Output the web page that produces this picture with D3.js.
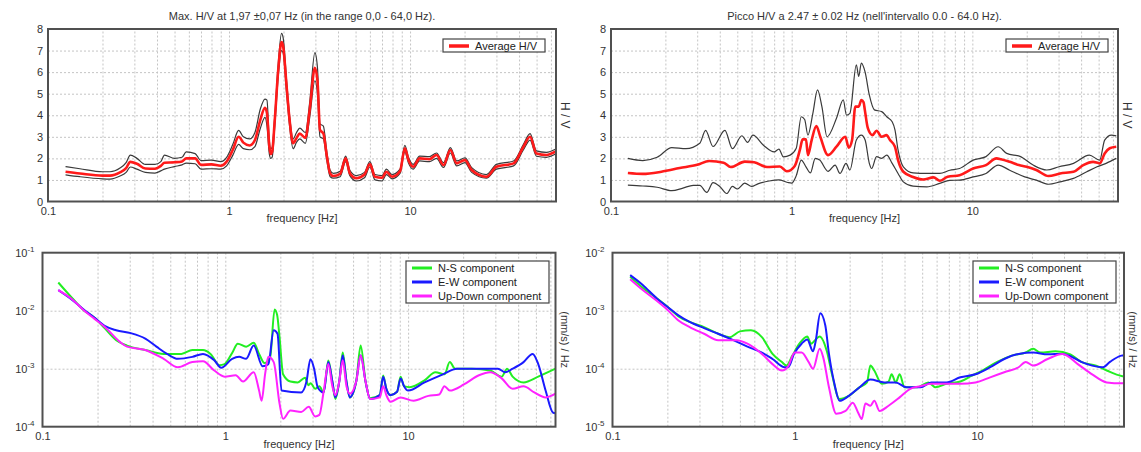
<!DOCTYPE html>
<html>
<head>
<meta charset="utf-8">
<script src="https://cdn.jsdelivr.net/npm/d3@7"></script>
<style>
body { margin: 0; background: #fff; }
svg { display: block; font-family: "Liberation Sans", Arial, sans-serif; }
.grid line { stroke: #c4c4c4; stroke-dasharray: 2,2; }
.grid .domain { display: none; }
.lbl text { fill: #333; font-size: 11px; }
.lbl .domain { display: none; }
</style>
</head>
<body>
<svg id="chart" width="1141" height="452"></svg>
<script>
// ---- top left: H/V (Max. H/V at 1,97 Hz)
const TL_FREQ = [0.125,0.15,0.2,0.22,0.25,0.27,0.285,0.31,0.345,0.39,0.42,0.44,0.5,0.55,0.58,0.65,0.7,0.8,0.9,0.97,
  1.05,1.13,1.2,1.3,1.39,1.49,1.58,1.62,1.67,1.7,1.73,1.79,1.87,1.95,1.99,2.08,2.16,2.26,2.36,2.46,
  2.64,2.79,2.98,3.08,3.18,3.32,3.47,3.62,3.77,4.11,4.41,4.65,5.05,5.6,6.0,6.4,7.0,7.4,7.95,8.8,
  9.36,9.8,10.4,11.3,12.8,14.0,15.3,16.7,18.1,20.1,21.9,26.4,30.0,37.3,42.3,46.0,49.9,56.7,63.5];
const TL_AVG = [1.38,1.30,1.2,1.2,1.35,1.55,1.84,1.75,1.53,1.52,1.65,1.8,1.82,1.86,2.0,2.0,1.7,1.72,1.66,1.85,
  2.4,3.0,2.73,2.6,2.85,3.8,4.35,4.1,2.55,2.2,2.3,3.8,6.1,7.4,7.2,5.33,3.78,2.7,2.95,3.15,
  2.95,4.25,6.2,5.6,3.32,3.15,2.1,1.3,1.18,1.28,2.0,1.31,1.08,1.25,1.74,1.15,1.1,1.38,1.15,1.4,
  2.47,1.92,1.61,2.0,1.96,2.16,1.69,2.39,1.77,1.92,1.46,1.15,1.61,1.77,2.54,3.0,2.23,2.16,2.31];
const TL_UP = [1.62,1.52,1.38,1.38,1.55,1.8,2.15,2.0,1.72,1.72,1.85,2.15,2.0,2.05,2.3,2.22,1.9,1.92,1.85,2.05,
  2.65,3.3,3.0,2.9,3.2,4.3,4.75,4.7,2.8,2.45,2.5,4.0,6.4,7.8,7.6,5.6,4.0,2.9,3.2,3.4,
  3.2,4.6,6.9,6.2,3.6,3.5,2.3,1.45,1.3,1.4,2.1,1.45,1.2,1.35,1.85,1.25,1.2,1.5,1.25,1.5,
  2.6,2.05,1.72,2.1,2.08,2.25,1.8,2.5,1.88,2.02,1.57,1.25,1.72,1.88,2.65,3.15,2.35,2.28,2.42];
const TL_LO = [1.24,1.15,1.05,1.04,1.18,1.35,1.6,1.5,1.35,1.32,1.42,1.5,1.62,1.7,1.78,1.75,1.5,1.52,1.5,1.65,
  2.15,2.65,2.45,2.4,2.55,3.4,3.9,3.5,2.2,2.0,2.05,3.5,5.8,7.0,6.9,5.0,3.5,2.45,2.75,2.9,
  2.7,3.9,5.6,5.0,3.0,2.9,1.9,1.15,1.08,1.15,1.85,1.2,0.95,1.1,1.6,1.0,0.95,1.25,1.05,1.3,
  2.3,1.78,1.5,1.88,1.85,2.0,1.58,2.25,1.65,1.8,1.35,1.08,1.5,1.65,2.4,2.85,2.1,2.05,2.2];

// ---- top right: H/V (Picco H/V a 2.47 Hz)
const TR_AVG_F = [0.124,0.15,0.19,0.24,0.3,0.35,0.42,0.46,0.55,0.62,0.73,0.86,0.94,1.04,1.11,1.15,1.2,1.23,1.29,1.37,
  1.44,1.59,1.77,1.98,2.07,2.16,2.25,2.35,2.43,2.5,2.54,2.64,2.8,2.95,3.15,3.35,3.5,3.73,3.88,4.15,
  4.7,5.34,6.1,6.6,7.3,8.5,10.1,11.9,13.6,14.4,16.1,18.1,20.0,22.6,26.4,30.6,36.3,41.1,46.6,50.7,54.0,57.6,62.6];
const TR_AVG = [1.32,1.28,1.38,1.55,1.7,1.88,1.8,1.6,1.85,1.82,1.6,1.62,1.4,1.65,2.39,2.88,2.88,2.15,2.85,3.5,
  3.0,2.15,2.54,3.0,2.5,2.85,4.4,4.4,4.71,4.6,4.25,3.4,3.08,3.28,3.0,3.08,2.85,2.54,1.92,1.38,
  1.14,1.02,1.12,0.96,1.15,1.22,1.53,1.69,2.0,1.96,1.84,1.69,1.61,1.46,1.18,1.3,1.38,1.69,1.84,1.77,2.23,2.47,2.54];
const TR_UP_F = [0.124,0.15,0.18,0.217,0.26,0.31,0.334,0.367,0.427,0.47,0.53,0.57,0.61,0.7,0.8,0.85,0.9,0.98,1.06,1.13,
  1.18,1.23,1.31,1.39,1.47,1.57,1.77,1.93,2.01,2.1,2.28,2.35,2.43,2.55,2.69,2.87,3.15,3.36,3.6,3.73,
  3.88,4.15,4.7,5.6,6.6,7.5,8.5,10.1,11.9,13.9,15.5,18.5,21.7,25.8,30.2,36.3,44.4,50.7,54,58.8,62.6];
const TR_UP = [2.0,1.9,2.05,2.5,2.45,2.7,3.3,2.55,3.3,2.45,3.05,2.74,3.08,2.6,2.3,2.43,2.07,2.15,2.47,3.93,
  3.8,3.08,4.09,5.18,4.4,3.0,3.86,4.71,4.01,4.09,6.34,5.8,6.42,6.0,4.94,4.25,4.17,3.93,3.7,3.32,
  2.39,1.61,1.33,1.3,1.3,1.45,1.53,1.92,2.08,2.54,2.23,2.08,1.69,1.46,1.61,1.77,2.15,1.92,2.85,3.08,3.04];
const TR_LO_F = [0.124,0.15,0.18,0.217,0.25,0.285,0.31,0.339,0.367,0.4,0.437,0.47,0.5,0.55,0.6,0.65,0.75,0.85,0.95,1.0,
  1.06,1.13,1.2,1.27,1.35,1.43,1.59,1.74,1.85,2.0,2.1,2.28,2.43,2.55,2.69,2.77,2.95,3.15,3.36,3.6,
  3.88,4.15,4.7,5.6,6.6,7.5,8.5,10.1,11.9,13.9,16.1,19.5,22.6,26.4,30.6,36.3,43,49,55,62.6];
const TR_LO = [0.76,0.72,0.66,0.5,0.62,0.75,0.75,0.42,0.88,0.7,0.37,0.7,0.58,0.85,0.7,0.82,0.95,1.0,0.88,0.85,
  1.2,1.92,1.61,1.33,2.0,1.92,1.4,1.69,1.3,1.77,1.46,2.85,3.08,2.85,1.77,1.53,2.08,2.0,2.15,1.77,
  1.3,0.91,0.71,0.68,0.84,0.98,0.99,1.14,1.3,1.69,1.45,1.14,0.99,0.8,0.91,1.07,1.38,1.61,1.77,2.0];

// ---- bottom left: spectra (mm/s)/Hz
const BL_NS_F = [0.122,0.146,0.168,0.192,0.22,0.253,0.29,0.365,0.46,0.575,0.66,0.755,0.83,0.93,0.99,1.09,1.17,1.3,1.43,1.53,
  1.64,1.76,1.86,1.92,1.98,2.07,2.27,2.49,2.73,2.85,2.93,3.1,3.27,3.45,3.66,3.85,4.0,4.2,4.39,4.6,
  4.8,5.2,5.5,5.85,6.2,7.0,7.3,7.6,8.0,8.7,9.1,9.5,10.2,12.3,14.1,15.8,16.9,18.1,22.3,28.1,
  32.5,34.8,37.3,42.8,51.5,64];
const BL_NS = [0.0306,0.0162,0.0102,0.0076,0.0049,0.0031,0.0025,0.0021,0.0018,0.0018,0.0021,0.0021,0.0018,0.00115,0.0012,0.00187,0.0027,0.0024,0.0028,0.0018,
  0.00125,0.0016,0.0105,0.0085,0.0035,0.0008,0.0006,0.00058,0.0007,0.00052,0.00056,0.00045,0.0005,0.00039,0.00138,0.0006,0.0003,0.0006,0.0019,0.0006,
  0.00032,0.0006,0.0025,0.0006,0.00031,0.00035,0.00076,0.00045,0.00035,0.0004,0.00073,0.0005,0.00048,0.00063,0.00087,0.0008,0.0013,0.001,0.001,0.00093,
  0.00073,0.001,0.00073,0.00058,0.00073,0.001];
const BL_EW_F = [0.122,0.146,0.168,0.192,0.22,0.253,0.304,0.365,0.42,0.48,0.55,0.66,0.755,0.87,0.95,1.09,1.19,1.3,1.43,1.6,
  1.72,1.84,1.93,2.03,2.6,2.78,2.92,3.06,3.2,3.45,3.66,3.85,4.0,4.2,4.39,4.6,4.8,5.2,5.5,5.85,
  6.2,7.0,7.3,7.6,8.0,8.7,9.1,9.5,10,12.3,15.5,18.5,24.4,31,34,37.3,42.8,48,51.5,56.5,62,64];
const BL_EW = [0.0226,0.0152,0.0105,0.0076,0.0054,0.0046,0.0041,0.0033,0.0024,0.0018,0.00148,0.0016,0.0018,0.0014,0.00104,0.00148,0.0016,0.00148,0.0025,0.0011,
  0.0012,0.0046,0.004,0.00042,0.00039,0.0006,0.00145,0.001,0.00048,0.00039,0.0013,0.0006,0.00032,0.0006,0.0017,0.0006,0.00032,0.0006,0.0017,0.0006,
  0.0003,0.00035,0.00073,0.00045,0.00035,0.0004,0.00068,0.0005,0.00042,0.00058,0.0008,0.001,0.001,0.001,0.00087,0.001,0.0013,0.0018,0.0012,0.00042,0.000175,0.00017];
const BL_UD_F = [0.122,0.146,0.168,0.192,0.22,0.265,0.29,0.365,0.46,0.55,0.66,0.755,0.87,0.99,1.14,1.25,1.43,1.53,1.58,1.65,
  1.72,1.84,1.98,2.07,2.27,2.6,2.86,3.1,3.27,3.45,3.66,3.85,4.0,4.2,4.39,4.6,4.8,5.2,5.5,5.85,
  6.2,7.0,7.3,7.6,8.0,9.1,10.7,12.9,14.8,15.8,16.9,20.3,24.4,28.1,32.5,37.3,42.8,49,56.5,64];
const BL_UD = [0.0226,0.0155,0.0102,0.0073,0.0052,0.0029,0.0024,0.0021,0.00148,0.00106,0.0013,0.00134,0.00093,0.00073,0.00077,0.0006,0.00087,0.00042,0.00028,0.0008,
  0.0016,0.0013,0.00025,0.000137,0.00019,0.00018,0.00022,0.00015,0.00016,0.0004,0.0012,0.0005,0.00035,0.0006,0.0014,0.0005,0.00037,0.0006,0.0017,0.0006,
  0.0003,0.00032,0.0005,0.00035,0.00027,0.00032,0.00028,0.00034,0.00036,0.0005,0.00042,0.00054,0.00077,0.00087,0.00068,0.00045,0.0005,0.00039,0.00032,0.00037];

// ---- bottom right: spectra (mm/s)/Hz
const BR_NS_F = [0.125,0.146,0.175,0.2,0.23,0.265,0.318,0.38,0.44,0.5,0.575,0.66,0.755,0.85,0.9,0.97,1.06,1.17,1.23,1.28,
  1.37,1.5,1.6,1.76,1.98,2.27,2.49,2.6,2.73,3.0,3.27,3.4,3.58,3.76,4.0,4.7,5.4,5.9,6.8,8.1,
  9.3,10.7,12.9,15.5,18.5,20.3,22.3,26.9,32.5,37.3,45,51.5,62,64];
const BR_NS = [0.00385,0.0025,0.00163,0.00117,0.0008,0.00064,0.00052,0.0004,0.00035,0.00044,0.00046,0.00035,0.00018,0.00013,0.000113,0.000168,0.00027,0.00036,0.00027,0.0003,
  0.00036,0.0002,0.00008,0.00003,0.000034,0.000048,0.000058,0.000114,0.000093,0.000055,0.00006,0.00008,0.000058,0.00008,0.000048,0.000048,0.000058,0.000048,0.000055,0.00006,
  0.000075,0.000093,0.000131,0.000168,0.00019,0.00022,0.00019,0.0002,0.000177,0.000131,0.000113,0.000093,0.000075,0.000074];
const BR_EW_F = [0.125,0.146,0.175,0.2,0.23,0.265,0.318,0.38,0.46,0.55,0.66,0.755,0.88,0.92,0.99,1.09,1.17,1.26,1.3,1.38,
  1.47,1.54,1.65,1.76,1.98,2.27,2.6,3.1,3.58,4.1,4.9,5.6,6.8,8.1,9.8,11.8,14.1,16.9,20.3,24.4,
  29.4,32.5,37.3,42.8,49,53.6,62,64];
const BR_EW = [0.0041,0.0028,0.00163,0.00117,0.00083,0.00064,0.0005,0.0004,0.00031,0.00024,0.00019,0.000147,0.000106,0.000106,0.00018,0.00027,0.00032,0.0002,0.00029,0.0009,
  0.00056,0.00018,0.000055,0.000028,0.000034,0.000048,0.000065,0.000058,0.000058,0.000048,0.000048,0.000058,0.000058,0.000071,0.00008,0.000106,0.000147,0.00018,0.00019,0.000177,
  0.00018,0.000164,0.000131,0.000113,0.000106,0.000131,0.000168,0.00017];
const BR_UD_F = [0.125,0.146,0.175,0.2,0.23,0.265,0.318,0.38,0.48,0.55,0.66,0.755,0.85,0.92,1.0,1.09,1.19,1.26,1.37,1.43,
  1.54,1.69,1.9,2.08,2.22,2.33,2.44,2.6,2.73,2.92,3.27,3.76,4.3,4.9,5.6,6.8,8.1,9.8,11.8,14.1,
  16.9,18.5,20.3,24.4,29.4,35.7,42.8,51.5,62,64];
const BR_UD = [0.0035,0.0023,0.00148,0.00104,0.00068,0.00052,0.0004,0.00031,0.00031,0.00027,0.00018,0.00012,0.000093,0.00011,0.00019,0.00019,0.000131,0.0001,0.00022,0.00016,
  0.000048,0.0000167,0.0000187,0.000026,0.0000178,0.0000136,0.000025,0.000023,0.000028,0.0000187,0.000023,0.000032,0.000045,0.00005,0.000055,0.000055,0.000055,0.000058,0.000071,0.000087,
  0.000106,0.000131,0.000113,0.000147,0.00018,0.00012,0.00008,0.000058,0.000056,0.000057];

// ---- texts
const TITLE_TL = "Max. H/V at 1,97 \u00b10,07 Hz (in the range 0,0 - 64,0 Hz).";
const TITLE_TR = "Picco H/V a 2.47 \u00b1 0.02 Hz (nell'intervallo 0.0 - 64.0 Hz).";
const X_TICKS = [0.1, 1, 10];
const HV_TICKS = [0, 1, 2, 3, 4, 5, 6, 7, 8];
const COMPONENTS = ["N-S component", "E-W component", "Up-Down component"];
const COMP_COLORS = ["#22ee22", "#1a1aff", "#ff22ff"];

const svg = d3.select('#chart');
const zip = (f, v) => f.map((d, i) => [d, v[i]]);

function drawPanel(p) {
  const x = d3.scaleLog().domain([0.1, 64]).range([p.left, p.right]);
  const y = p.log
    ? d3.scaleLog().domain(p.yDomain).range([p.bottom, p.top])
    : d3.scaleLinear().domain([0, 8]).range([p.bottom, p.top]);
  const h = p.bottom - p.top;
  const g = svg.append('g');
  const decades = p.log ? y.ticks().filter(d => Math.abs(Math.log10(d) % 1) < 1e-9) : null;

  // grid
  g.append('g').attr('class', 'grid')
    .attr('transform', `translate(0,${p.bottom})`)
    .call(d3.axisBottom(x).tickValues(x.ticks().filter(d => d > 0.1)).tickSize(-h).tickFormat(''));
  g.append('g').attr('class', 'grid')
    .attr('transform', `translate(${p.left},0)`)
    .call(d3.axisLeft(y).tickValues(p.log ? decades.slice(1, -1) : HV_TICKS.slice(1, -1))
      .tickSize(-(p.right - p.left)).tickFormat(''));

  // clipped lines
  const id = 'clip' + p.name;
  svg.append('clipPath').attr('id', id).append('rect')
    .attr('x', p.left).attr('y', p.top).attr('width', p.right - p.left).attr('height', h);
  const line = d3.line().x(d => x(d[0])).y(d => y(d[1])).curve(d3.curveMonotoneX);
  const lines = g.append('g').attr('clip-path', `url(#${id})`);
  p.series.forEach(s => {
    lines.append('path').datum(zip(s.f, s.v))
      .attr('fill', 'none').attr('stroke', s.color).attr('stroke-width', s.width)
      .attr('stroke-linejoin', 'round').attr('d', line);
  });

  // frame
  g.append('rect').attr('x', p.left).attr('y', p.top)
    .attr('width', p.right - p.left).attr('height', h)
    .attr('fill', 'none').attr('stroke', '#505050').attr('stroke-width', 2);

  // tick labels
  g.append('g').attr('class', 'lbl')
    .attr('transform', `translate(0,${p.bottom})`)
    .call(d3.axisBottom(x).tickValues(X_TICKS).tickSize(0).tickPadding(6).tickFormat(d3.format('~g')));
  const yAx = g.append('g').attr('class', 'lbl')
    .attr('transform', `translate(${p.left},0)`)
    .call(d3.axisLeft(y).tickValues(p.log ? decades : HV_TICKS)
      .tickSize(0).tickPadding(p.log ? 8 : 5).tickFormat(d3.format('~g')));
  if (p.log) {
    yAx.selectAll('.tick text').each(function (d) {
      const t = d3.select(this).text(null);
      t.append('tspan').text('10');
      t.append('tspan').attr('dy', -5).attr('font-size', 8).text(Math.round(Math.log10(d)));
    });
  }

  // axis titles
  g.append('text').attr('x', (p.left + p.right) / 2).attr('y', p.log ? 448 : 222)
    .attr('text-anchor', 'middle').attr('font-size', 11).attr('fill', '#333')
    .text('frequency [Hz]');
  g.append('text').attr('transform', `translate(${p.right + 5},${(p.top + p.bottom) / 2}) rotate(90)`)
    .attr('text-anchor', 'middle').attr('font-size', p.log ? 11 : 12).attr('fill', '#333')
    .text(p.yTitle);

  // legend
  const L = p.legend;
  g.append('rect').attr('x', L.x).attr('y', L.y).attr('width', L.w).attr('height', L.h)
    .attr('fill', '#fff').attr('stroke', '#444').attr('stroke-width', 1.2);
  L.items.forEach((it, i) => {
    const yy = L.y + 7 + i * 14;
    g.append('line').attr('x1', L.x + 6).attr('x2', L.x + 26).attr('y1', yy).attr('y2', yy)
      .attr('stroke', it.color).attr('stroke-width', it.width);
    g.append('text').attr('x', L.x + 32).attr('y', yy + 4).attr('font-size', 11).attr('fill', '#222')
      .text(it.label);
  });
  return g;
}

// top panels
[
  { name: 'tl', left: 48, right: 556, title: TITLE_TL, up: [TL_FREQ, TL_UP], lo: [TL_FREQ, TL_LO], avg: [TL_FREQ, TL_AVG], lx: 443 },
  { name: 'tr', left: 611, right: 1118, title: TITLE_TR, up: [TR_UP_F, TR_UP], lo: [TR_LO_F, TR_LO], avg: [TR_AVG_F, TR_AVG], lx: 1006 }
].forEach(c => {
  drawPanel({
    name: c.name, left: c.left, right: c.right, top: 29, bottom: 201.5, log: false, yTitle: 'H / V',
    series: [
      { f: c.up[0], v: c.up[1], color: '#3a3a3a', width: 1.2 },
      { f: c.lo[0], v: c.lo[1], color: '#3a3a3a', width: 1.2 },
      { f: c.avg[0], v: c.avg[1], color: '#ff1a1a', width: 2.6 }
    ],
    legend: { x: c.lx, y: 39, w: 102, h: 13, items: [{ label: 'Average H/V', color: '#ff1a1a', width: 3.5 }] }
  });
  svg.append('text').attr('x', (c.left + c.right) / 2).attr('y', 20)
    .attr('text-anchor', 'middle').attr('font-size', 11).attr('fill', '#333').text(c.title);
});

// bottom panels
[
  { name: 'bl', left: 42.5, right: 555.5, yDomain: [1e-4, 1e-1], f: [BL_NS_F, BL_EW_F, BL_UD_F], v: [BL_NS, BL_EW, BL_UD], lx: 406 },
  { name: 'br', left: 612.5, right: 1124, yDomain: [1e-5, 1e-2], f: [BR_NS_F, BR_EW_F, BR_UD_F], v: [BR_NS, BR_EW, BR_UD], lx: 973 }
].forEach(c => {
  drawPanel({
    name: c.name, left: c.left, right: c.right, top: 252.7, bottom: 426.7, log: true, yDomain: c.yDomain,
    yTitle: '(mm/s) / Hz',
    series: COMPONENTS.map((n, i) => ({ f: c.f[i], v: c.v[i], color: COMP_COLORS[i], width: 2 })),
    legend: { x: c.lx, y: 261, w: 143, h: 42,
      items: COMPONENTS.map((n, i) => ({ label: n, color: COMP_COLORS[i], width: 3 })) }
  });
});
</script>
</body>
</html>
